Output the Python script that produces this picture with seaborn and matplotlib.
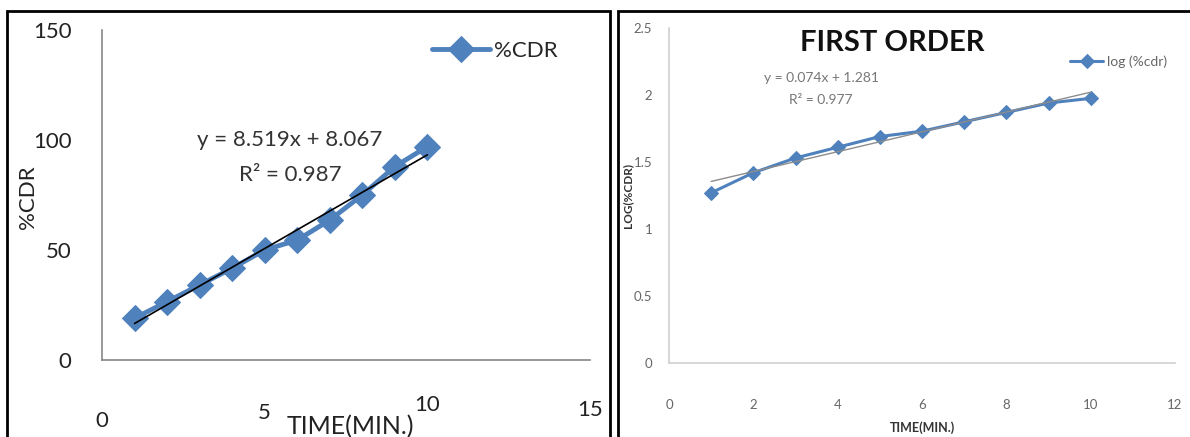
import numpy as np
import pandas as pd
import matplotlib
matplotlib.use('Agg')
import matplotlib.pyplot as plt
from matplotlib.patches import Rectangle
import seaborn as sns

# data
time_min = [1, 2, 3, 4, 5, 6, 7, 8, 9, 10]
cdr = [19.0, 26.5, 34.1, 41.7, 50.0, 54.5, 63.6, 75.0, 87.9, 97.0]
log_cdr = [1.27, 1.42, 1.53, 1.61, 1.69, 1.73, 1.80, 1.87, 1.94, 1.975]

# excel trendlines shown on the charts
zero_slope, zero_icpt = 8.519, 8.067
first_slope, first_icpt = 0.074, 1.281

left_xticks = [0, 5, 10, 15]
left_yticks = [0, 50, 100, 150]
right_xticks = [0, 2, 4, 6, 8, 10, 12]
right_yticks = [0, 0.5, 1, 1.5, 2, 2.5]

blue = '#4F81BD'

sns.set_style('white')
plt.rcParams['font.family'] = ['Lato', 'DejaVu Sans']

W, H = 1190, 437
fig = plt.figure(figsize=(W / 100, H / 100), dpi=100)


def fx(px):
    return px / W


def fy(py):
    return 1 - py / H


# panel frames
fig.patches.append(Rectangle((fx(7), fy(445)), fx(603), fy(11) - fy(445),
                             transform=fig.transFigure, fill=False,
                             edgecolor='black', linewidth=2))
fig.patches.append(Rectangle((fx(618), fy(445)), fx(600), fy(11) - fy(445),
                             transform=fig.transFigure, fill=False,
                             edgecolor='black', linewidth=2))

# ---- left: zero order ----
df0 = pd.DataFrame({'time': time_min, 'cdr': cdr})
ax1 = fig.add_axes([fx(102), fy(360), fx(590) - fx(102), fy(30) - fy(360)])
sns.lineplot(data=df0, x='time', y='cdr', ax=ax1, color=blue, marker='D',
             markersize=13, markeredgecolor=blue, linewidth=3.5, label='%CDR')
xt = np.array([time_min[0], time_min[-1]])
ax1.plot(xt, zero_slope * xt + zero_icpt, color='black', linewidth=1.2)
ax1.set_xlim(0, 15)
ax1.set_ylim(0, 150)
ax1.set_xticks(left_xticks)
ax1.set_yticks(left_yticks)
ax1.set_xlabel('')
ax1.set_ylabel('')
ax1.tick_params(length=0, labelsize=16, labelcolor='#222222')
ax1.tick_params(axis='y', pad=22)
# excel pushed the middle labels up around the axis title
for tick, pad in zip(ax1.xaxis.get_major_ticks(), [37, 31, 25, 29]):
    tick.set_pad(pad)
for s in ['top', 'right']:
    ax1.spines[s].set_visible(False)
for s in ['left', 'bottom']:
    ax1.spines[s].set_color('#888888')
    ax1.spines[s].set_linewidth(1.2)
ax1.legend(loc='center left', bbox_to_anchor=(fx(432), fy(51)),
           bbox_transform=fig.transFigure, frameon=False, fontsize=16,
           borderpad=0, borderaxespad=0, handlelength=2.6, handletextpad=0.2)
fig.text(fx(290), fy(140), 'y = 8.519x + 8.067', fontsize=16,
         ha='center', va='center', color='#333333')
fig.text(fx(290), fy(175), 'R² = 0.987', fontsize=16,
         ha='center', va='center', color='#333333')
fig.text(fx(28), fy(197), '%CDR', fontsize=16, rotation=90,
         ha='center', va='center', color='#222222')
fig.text(fx(350), fy(427), 'TIME(MIN.)', fontsize=18,
         ha='center', va='center', color='#222222')

# ---- right: first order ----
df1 = pd.DataFrame({'time': time_min, 'logcdr': log_cdr})
ax2 = fig.add_axes([fx(669), fy(363), fx(1175) - fx(669), fy(28) - fy(363)])
sns.lineplot(data=df1, x='time', y='logcdr', ax=ax2, color=blue, marker='D',
             markersize=7, markeredgecolor=blue, linewidth=2.2,
             label='log (%cdr)')
ax2.plot(xt, first_slope * xt + first_icpt, color='#8c8c8c', linewidth=1.0)
ax2.set_xlim(0, 12)
ax2.set_ylim(0, 2.5)
ax2.set_xticks(right_xticks)
ax2.set_yticks(right_yticks)
ax2.set_yticklabels(['0', '0.5', '1', '1.5', '2', '2.5'])
ax2.set_xlabel('')
ax2.set_ylabel('')
ax2.tick_params(length=0, labelsize=9.5, labelcolor='#666666')
ax2.tick_params(axis='x', pad=26)
ax2.tick_params(axis='y', pad=12)
for s in ['top', 'right']:
    ax2.spines[s].set_visible(False)
for s in ['left', 'bottom']:
    ax2.spines[s].set_color('#d0d0d0')
    ax2.spines[s].set_linewidth(1.2)
ax2.legend(loc='center left', bbox_to_anchor=(fx(1070), fy(62)),
           bbox_transform=fig.transFigure, frameon=False, fontsize=10,
           labelcolor='#666666', borderpad=0, borderaxespad=0,
           handlelength=2.4, handletextpad=0.25)
fig.text(fx(821), fy(78), 'y = 0.074x + 1.281', fontsize=10,
         ha='center', va='center', color='#777777')
fig.text(fx(821), fy(100), 'R² = 0.977', fontsize=10,
         ha='center', va='center', color='#777777')
fig.text(fx(892), fy(43), 'FIRST ORDER', fontsize=21, fontweight='bold',
         ha='center', va='center', color='#111111')
fig.text(fx(628), fy(195), 'LOG(%CDR)', fontsize=8.5, fontweight='bold',
         rotation=90, ha='center', va='center', color='#333333')
fig.text(fx(923), fy(428), 'TIME(MIN.)', fontsize=9, fontweight='bold',
         ha='center', va='center', color='#333333')

fig.savefig('out.png', dpi=100)
